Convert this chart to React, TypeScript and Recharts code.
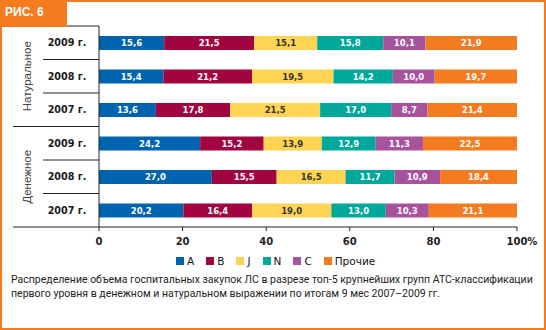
import React from 'react';
import { BarChart, Bar, XAxis, YAxis, LabelList, Legend } from 'recharts';

const rowKeys = ['n2009', 'n2008', 'n2007', 'd2009', 'd2008', 'd2007'];
const yearLabels = ['2009 г.', '2008 г.', '2007 г.', '2009 г.', '2008 г.', '2007 г.'];
const groupLabels = ['Натуральное', 'Денежное'];
const seriesNames = ['A', 'B', 'J', 'N', 'C', 'Прочие'];
const seriesA = [15.6, 15.4, 13.6, 24.2, 27.0, 20.2];
const seriesB = [21.5, 21.2, 17.8, 15.2, 15.5, 16.4];
const seriesJ = [15.1, 19.5, 21.5, 13.9, 16.5, 19.0];
const seriesN = [15.8, 14.2, 17.0, 12.9, 11.7, 13.0];
const seriesC = [10.1, 10.0, 8.7, 11.3, 10.9, 10.3];
const seriesOther = [21.9, 19.7, 21.4, 22.5, 18.4, 21.1];
const xTicks = [0, 20, 40, 60, 80, 100];
const caption = [
  'Распределение объема госпитальных закупок ЛС в разрезе топ-5 крупнейших групп АТС-классификации',
  'первого уровня в денежном и натуральном выражении по итогам 9 мес 2007–2009 гг.',
];

const seriesValues = [seriesA, seriesB, seriesJ, seriesN, seriesC, seriesOther];
const seriesKeys = ['A', 'B', 'J', 'N', 'C', 'O'];
const colors = ['#0063AF', '#A1043F', '#FFD452', '#00A89C', '#A6529D', '#F47B20'];
const labelColors = ['#fff', '#fff', '#333', '#fff', '#fff', '#fff'];

const data = rowKeys.map((key, i) => {
  const row: any = { key };
  seriesKeys.forEach((s, j) => {
    row[s] = seriesValues[j][i];
  });
  return row;
});

const TOP = 26;
const BOTTOM = 227;
const BAND = (BOTTOM - TOP) / rowKeys.length;
const AXIS_X = 99;
const INK = '#222';
const FONT = '"DejaVu Sans", sans-serif';

const YTick = (props: any) => {
  const { y, index } = props;
  const half = BAND / 2;
  const groupStart = index % 3 === 0;
  return (
    <g>
      <line x1={groupStart ? 13 : 43} x2={AXIS_X} y1={y - half} y2={y - half} stroke={INK} strokeWidth={1} />
      {index === rowKeys.length - 1 && (
        <line x1={13} x2={AXIS_X} y1={y + half} y2={y + half} stroke={INK} strokeWidth={1} />
      )}
      <text x={67} y={y} dy="0.36em" textAnchor="middle" fontSize={9.6} fontWeight="bold" fontFamily={FONT} fill="#1a1a1a">
        {yearLabels[index]}
      </text>
      {index % 3 === 1 && (
        <text
          transform={`translate(27, ${y}) rotate(-90)`}
          textAnchor="middle"
          dy="0.36em"
          fontSize={11.5}
          fontFamily='"Liberation Sans", Arial, sans-serif'
          fill="#444"
        >
          {groupLabels[Math.floor(index / 3)]}
        </text>
      )}
    </g>
  );
};

const XTick = (props: any) => {
  const { x, y, payload } = props;
  const v = payload.value;
  const isLast = v === 100;
  return (
    <text
      x={isLast ? x - 10.5 : x}
      y={y}
      dy="0.71em"
      textAnchor={isLast ? 'start' : 'middle'}
      fontSize={10}
      fontWeight="bold"
      fontFamily={FONT}
      fill="#222"
    >
      {isLast ? '100%' : String(v)}
    </text>
  );
};

const LegendContent = () => (
  <div style={{ display: 'flex', alignItems: 'center', fontFamily: FONT, fontSize: 10.5, color: '#111', whiteSpace: 'nowrap' }}>
    {seriesNames.map((n, i) => (
      <div key={n} style={{ display: 'flex', alignItems: 'center', marginRight: 12 }}>
        <span style={{ display: 'inline-block', width: 8, height: 8, background: colors[i], marginRight: 3 }} />
        <span>{n}</span>
      </div>
    ))}
  </div>
);

const fmt = (v: any) => Number(v).toFixed(1).replace('.', ',');

export default function App() {
  return (
    <div style={{ position: 'absolute', left: 0, top: 0, width: 546, height: 330, background: '#fff', overflow: 'hidden' }}>
      <BarChart
        width={546}
        height={330}
        data={data}
        layout="vertical"
        margin={{ top: TOP, right: 546 - 517, bottom: 330 - BOTTOM - 20, left: 0 }}
        barSize={14}
      >
        <XAxis
          type="number"
          domain={[0, 100]}
          ticks={xTicks}
          interval={0}
          height={20}
          tickSize={4}
          tickMargin={7}
          axisLine={{ stroke: INK }}
          tickLine={{ stroke: INK }}
          tick={<XTick />}
        />
        <YAxis
          type="category"
          dataKey="key"
          width={AXIS_X}
          axisLine={{ stroke: INK }}
          tickLine={false}
          tick={<YTick />}
          interval={0}
        />
        <Legend
          verticalAlign="middle"
          align="center"
          layout="horizontal"
          content={<LegendContent />}
          wrapperStyle={{ top: 255, left: 176, width: 'auto', height: 'auto' }}
        />
        {seriesKeys.map((s, i) => (
          <Bar key={s} dataKey={s} name={seriesNames[i]} stackId="a" fill={colors[i]} isAnimationActive={false}>
            <LabelList
              dataKey={s}
              position="center"
              formatter={fmt}
              fill={labelColors[i]}
              fontSize={8.5}
              fontWeight="bold"
              fontFamily={FONT}
            />
          </Bar>
        ))}
      </BarChart>
      <div
        style={{
          position: 'absolute',
          left: 11,
          top: 273,
          fontFamily: 'Roboto, sans-serif',
          fontSize: 10.5,
          lineHeight: '14px',
          color: INK,
          whiteSpace: 'nowrap',
        }}
      >
        {caption[0]}
        <br />
        {caption[1]}
      </div>
      <div
        style={{
          position: 'absolute',
          left: 0,
          top: 0,
          width: 546,
          height: 330,
          boxSizing: 'border-box',
          border: '2px solid #F47B20',
          pointerEvents: 'none',
        }}
      />
      <div
        style={{
          position: 'absolute',
          left: 0,
          top: 0,
          width: 67,
          height: 27,
          background: '#F47B20',
          color: '#fff',
          fontFamily: '"Liberation Sans", Arial, sans-serif',
          fontWeight: 'bold',
          fontSize: 12,
          lineHeight: '25px',
          paddingLeft: 5,
          boxSizing: 'border-box',
        }}
      >
        РИС. 6
      </div>
    </div>
  );
}
